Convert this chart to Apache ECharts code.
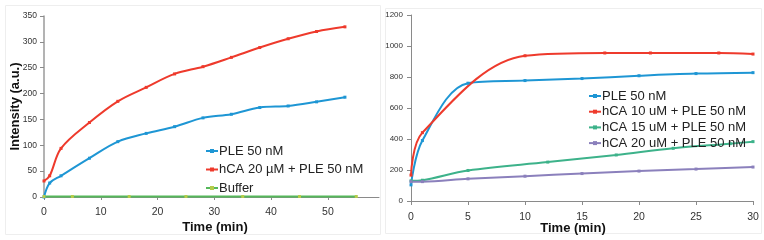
<!DOCTYPE html>
<html><head><meta charset="utf-8">
<script src="https://cdn.jsdelivr.net/npm/echarts@6/dist/echarts.min.js"></script>
<style>html,body{margin:0;padding:0;background:#fff}#c{width:764px;height:240px}</style>
</head><body><div id="c"></div>
<script>
// Left chart data
const leftPleX = [0,1,3,8,13,18,23,28,33,38,43,48,53];
const leftPle = [0,27,41,75,107,123,136,153,160,173,176,184,193];
const leftHcaX = [0,1,3,8,13,18,23,28,33,38,43,48,53];
const leftHca = [31,41,94,144,185,212,238,252,270,289,306,320,329];
const leftBufX = [0,5,15,25,35,45,55];
const leftBuf = [1,1,1,1,1,1,1];
const leftXTicks = [0,10,20,30,40,50];
const leftNames = ['PLE 50 nM','hCA 20 µM + PLE 50 nM','Buffer'];

// Right chart data
const rPleX = [0,1,5,10,15,20,25,30];
const rPle = [104,390,760,777,790,808,822,828];
const rHca10X = [0,1,10,17,21,27,30];
const rHca10 = [167,441,937,955,955,955,948];
const rHca15X = [0,1,5,12,18,23,28,30];
const rHca15 = [130,134,197,251,297,340,370,383];
const rHca20X = [0,1,5,10,15,20,25,30];
const rHca20 = [125,125,143,160,177,193,206,219];
const rightNames = ['PLE 50 nM','hCA 10 uM + PLE 50 nM','hCA 15 uM + PLE 50 nM','hCA 20 uM + PLE 50 nM'];

const pairs = (xs, ys) => xs.map((x, i) => [x, ys[i]]);
const FONT = 'Liberation Sans, Arial, sans-serif';
const C = {blue:'#1E96D4', red:'#EE3A2C', green:'#3DB28A', purple:'#8B80BC', buf:'#55B85A'};
const plain = v => String(v);

function ser(name, data, color, xi, mcolor) {
  return {name, type:'line', xAxisIndex:xi, yAxisIndex:xi, data, smooth:0.35,
    symbol:'rect', symbolSize:3, showSymbol:true,
    lineStyle:{color, width:2}, itemStyle:{color: mcolor || color}, z: 3};
}
const axisLineStyle = {lineStyle:{color:'#8a8a8a', width:1}};
const chart = echarts.init(document.getElementById('c'), null, {renderer:'canvas'});
chart.setOption({
  animation:false,
  backgroundColor:'#fff',
  textStyle:{fontFamily:FONT},
  grid:[
    {left:44, top:16, width:335, height:181},
    {left:411, top:15, width:342, height:186}
  ],
  xAxis:[
    {type:'value', gridIndex:0, min:0, max:59, splitLine:{show:false},
     axisLine:axisLineStyle, axisTick:{show:true, length:3, customValues:leftXTicks, lineStyle:{color:'#8a8a8a'}},
     axisLabel:{customValues:leftXTicks, formatter:plain, fontSize:10.5, color:'#333', margin:10, fontFamily:FONT}},
    {type:'value', gridIndex:1, min:0, max:30, interval:5, splitLine:{show:false},
     axisLine:axisLineStyle, axisTick:{show:true, length:4, lineStyle:{color:'#8a8a8a'}},
     axisLabel:{formatter:plain, fontSize:10.5, color:'#333', margin:11, fontFamily:FONT}}
  ],
  yAxis:[
    {type:'value', gridIndex:0, min:0, max:350, interval:50, splitLine:{show:false},
     axisLine:{show:true, lineStyle:{color:'#9a9a9a', width:1.5}}, axisTick:{show:true, length:4, lineStyle:{color:'#8a8a8a'}},
     axisLabel:{formatter:plain, fontSize:8.5, color:'#333', margin:7, fontFamily:FONT}},
    {type:'value', gridIndex:1, min:0, max:1200, interval:200, splitLine:{show:false},
     axisLine:{show:true, lineStyle:{color:'#8a8a8a', width:1}}, axisTick:{show:true, length:4, lineStyle:{color:'#8a8a8a'}},
     axisLabel:{formatter:plain, fontSize:8, color:'#333', margin:8, fontFamily:FONT}}
  ],
  legend:[
    {data:leftNames, orient:'vertical', left:200, top:139, itemWidth:12, itemHeight:5, itemGap:4.5,
     textStyle:{fontSize:13, color:'#222', lineHeight:14, padding:[0,0,0,-4], fontFamily:FONT}},
    {data:rightNames, orient:'vertical', left:583, top:84, itemWidth:12, itemHeight:5, itemGap:1.7,
     textStyle:{fontSize:13, color:'#222', lineHeight:14, padding:[0,0,0,-4], fontFamily:FONT}}
  ],
  graphic:[
    {type:'rect', shape:{x:5.5, y:5.5, width:375, height:229}, style:{fill:'none', stroke:'#eeeeee', lineWidth:1}, silent:true},
    {type:'rect', shape:{x:385.5, y:8.5, width:376, height:225}, style:{fill:'none', stroke:'#eeeeee', lineWidth:1}, silent:true},
    {type:'text', x:15.5, y:106.5, rotation:Math.PI/2, style:{text:'Intensity (a.u.)', font:'bold 13px '+FONT, fill:'#111', textAlign:'center', textVerticalAlign:'middle'}},
    {type:'text', x:215, y:227, style:{text:'Time (min)', font:'bold 13px '+FONT, fill:'#111', textAlign:'center', textVerticalAlign:'middle'}},
    {type:'text', x:573, y:228, style:{text:'Time (min)', font:'bold 13px '+FONT, fill:'#111', textAlign:'center', textVerticalAlign:'middle'}}
  ],
  series:[
    ser(leftNames[0], pairs(leftPleX, leftPle), C.blue, 0),
    ser(leftNames[1], pairs(leftHcaX, leftHca), C.red, 0),
    Object.assign(ser(leftNames[2], pairs(leftBufX, leftBuf), C.buf, 0, '#B5CC4A'), {smooth:false}),
    ser(rightNames[0], pairs(rPleX, rPle), C.blue, 1),
    ser(rightNames[1], pairs(rHca10X, rHca10), C.red, 1),
    ser(rightNames[2], pairs(rHca15X, rHca15), C.green, 1),
    ser(rightNames[3], pairs(rHca20X, rHca20), C.purple, 1)
  ]
});
</script></body></html>
